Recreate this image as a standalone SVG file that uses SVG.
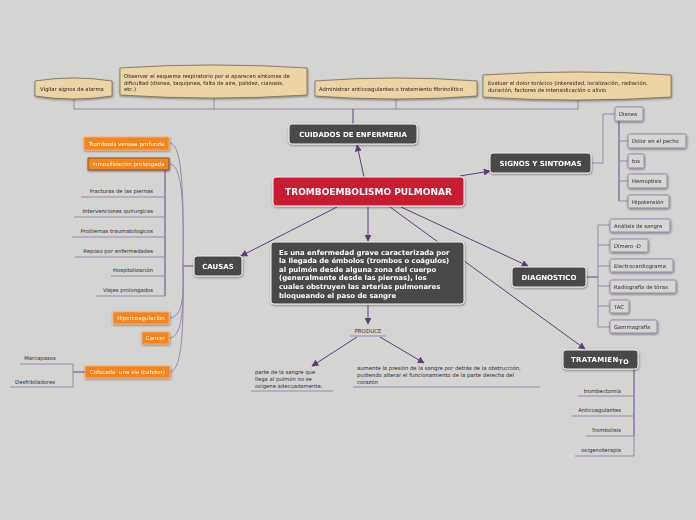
<svg xmlns="http://www.w3.org/2000/svg" width="696" height="520" viewBox="0 0 696 520">
<defs>
<marker id="ah" viewBox="0 0 10 10" refX="9" refY="5" markerWidth="7" markerHeight="7" orient="auto" markerUnits="userSpaceOnUse">
<path d="M0,0 L10,5 L0,10 Z" fill="#5e3a80"/>
</marker>
<filter id="sh" x="-10%" y="-20%" width="120%" height="150%">
<feDropShadow dx="0.5" dy="1" stdDeviation="0.8" flood-color="#000" flood-opacity="0.45"/>
</filter>
</defs>
<style>
text{font-family:"DejaVu Sans","Verdana",sans-serif}
.dark{fill:#4a4a4a;stroke:#f2f2f2;stroke-width:1}
.dt{fill:#fff;font-weight:bold;font-size:7px;text-anchor:middle}
.scroll{fill:#ecd4a5;stroke:#6e5f48;stroke-width:0.7}
.st{fill:#222;font-size:5.3px}
.gn{fill:#d6d6d4;stroke:#9a84ad;stroke-width:1}
.gt{fill:#2a2a2a;font-size:5.3px}
.or{fill:#f5841f;stroke:#fbb472;stroke-width:0.8}
.ot{fill:#fff;font-size:5.5px;text-anchor:middle}
.ut{fill:#2a2a2a;font-size:5.3px;text-anchor:end}
.main{stroke:#5e3a80;stroke-width:1;fill:none}
.lite{stroke:#9a84ad;stroke-width:1;fill:none}
.mid{stroke:#7a5a9a;stroke-width:1.2;fill:none}
.ul{stroke:#9a84ad;stroke-width:1;fill:none}
</style>
<rect width="696" height="520" fill="#d4d5d3"/>

<g id="connectors">
<path class="lite" d="M74,99 V109 H578 V100 M214,99 V109 M396,99 V109"/>
<path class="main" d="M353,109 V124"/>
<path class="main" d="M364,177 L357,145" marker-end="url(#ah)"/>
<path class="main" d="M460,176 L490,171" marker-end="url(#ah)"/>
<path class="main" d="M401,207 L528,266" marker-end="url(#ah)"/>
<path class="main" d="M390,207 L585,349" marker-end="url(#ah)"/>
<path class="main" d="M337,207 L241,256" marker-end="url(#ah)"/>
<path class="main" d="M368,207 V241" marker-end="url(#ah)"/>
<path class="main" d="M368,305 V324" marker-end="url(#ah)"/>
<path class="main" d="M357,337 L312,366" marker-end="url(#ah)"/>
<path class="main" d="M380,337 L424,363" marker-end="url(#ah)"/>
<path class="lite" d="M591,163 H603 V114 H615"/>
<path class="mid" d="M619,121 V201"/>
<path class="lite" d="M619,141 H628 M619,161 H628 M619,181 H628 M619,201 H628"/>
<path class="mid" d="M586,277 H598"/>
<path class="lite" d="M598,225 V327 M598,225 H610 M598,245 H610 M598,266 H610 M598,286 H610 M598,306 H610 M598,327 H610"/>
<path class="mid" d="M634,369 V436"/>
<path class="lite" d="M634,436 V456"/>
<path class="ul" d="M578,396 H634 M572,416 H634 M586,436 H634 M575,456 H634"/>
<path class="mid" d="M194,266 H183"/>
<path class="lite" d="M183,266 C184,190 182,145 170,143"/>
<path class="lite" d="M183,266 C184,200 182,166 170,164"/>
<path class="lite" d="M183,266 C184,300 182,316 170,318"/>
<path class="lite" d="M183,266 C184,310 182,336 170,338"/>
<path class="lite" d="M183,266 C184,330 182,370 170,372"/>
<path class="mid" d="M165,170 V296"/>
<path class="ul" d="M81,197 H165 M74,217 H165 M72,237 H165 M75,257 H165 M111,276 H165 M96,296 H165"/>
<path class="mid" d="M85,372 H73"/>
<path class="ul" d="M73,364 V387 M20,364 H73 M10,387 H73"/>
<path class="ul" d="M350,336 H386 M251,391 H333 M353,387 H540"/>
</g>

<g id="care1" filter="url(#sh)">
<path class="scroll" d="M35,81 Q73,75 112,81 L112,96 Q73,102 35,96 Z"/>
<text class="st" x="40" y="91">Vigilar signos de alarma</text>
</g>
<g id="care2" filter="url(#sh)">
<path class="scroll" d="M120,68 Q213,62 307,68 L307,95 Q213,101 120,95 Z"/>
<text class="st" x="124" y="77.5">Observar el esquema respiratorio por si aparecen síntomas de</text>
<text class="st" x="124" y="84.5">dificultad (disnea, taquipnea, falta de aire, palidez, cianosis,</text>
<text class="st" x="124" y="91">etc.)</text>
</g>
<g id="care3" filter="url(#sh)">
<path class="scroll" d="M315,81 Q396,75 477,81 L477,96 Q396,102 315,96 Z"/>
<text class="st" x="319" y="91">Administrar anticoagulantes o tratamiento fibrinolítico</text>
</g>
<g id="care4" filter="url(#sh)">
<path class="scroll" d="M483,75 Q577,69 671,75 L671,97 Q577,103 483,97 Z"/>
<text class="st" x="488" y="85">Evaluar el dolor torácico (intensidad, localización, radiación,</text>
<text class="st" x="488" y="91.5">duración, factores de intensidicación o alivio</text>
</g>

<g id="cuidados" filter="url(#sh)">
<rect class="dark" x="289" y="124" width="128" height="20" rx="3"/>
<text class="dt" x="353" y="136.5">CUIDADOS DE ENFERMERIA</text>
</g>

<g id="main" filter="url(#sh)">
<rect x="273" y="177" width="191" height="29" rx="3" fill="#c71f32" stroke="#f2f2f2" stroke-width="1"/>
<text x="368.5" y="194.5" fill="#fff" font-weight="bold" font-size="9px" text-anchor="middle">TROMBOEMBOLISMO PULMONAR</text>
</g>

<g id="signos" filter="url(#sh)">
<rect class="dark" x="490" y="153" width="101" height="20" rx="3"/>
<text class="dt" x="540.5" y="165.5">SIGNOS Y SINTOMAS</text>
</g>
<g id="disnea" filter="url(#sh)"><rect class="gn" x="615" y="107" width="28" height="14" rx="1.5"/><text class="gt" x="619" y="116">Disnea</text></g>
<g id="dolor" filter="url(#sh)"><rect class="gn" x="628" y="134" width="58" height="14" rx="1.5"/><text class="gt" x="632" y="143">Dolor en el pecho</text></g>
<g id="tos" filter="url(#sh)"><rect class="gn" x="628" y="154" width="16" height="14" rx="1.5"/><text class="gt" x="632" y="163">tos</text></g>
<g id="hemoptisis" filter="url(#sh)"><rect class="gn" x="628" y="174" width="39" height="14" rx="1.5"/><text class="gt" x="632" y="183">Hemoptisis</text></g>
<g id="hipotension" filter="url(#sh)"><rect class="gn" x="628" y="195" width="41" height="13" rx="1.5"/><text class="gt" x="632" y="203.5">Hipotensión</text></g>

<g id="diagnostico" filter="url(#sh)">
<rect class="dark" x="512" y="267" width="74" height="20" rx="3"/>
<text class="dt" x="549" y="279.5">DIAGNOSTICO</text>
</g>
<g id="analisis" filter="url(#sh)"><rect class="gn" x="610" y="219" width="60" height="13" rx="1.5"/><text class="gt" x="614" y="227.5">Análisis de sangre</text></g>
<g id="dimero" filter="url(#sh)"><rect class="gn" x="610" y="239" width="38" height="13" rx="1.5"/><text class="gt" x="614" y="247.5">Dímero -D</text></g>
<g id="electro" filter="url(#sh)"><rect class="gn" x="610" y="259" width="63" height="13" rx="1.5"/><text class="gt" x="614" y="267.5">Electrocardiograma</text></g>
<g id="radiografia" filter="url(#sh)"><rect class="gn" x="610" y="280" width="66" height="13" rx="1.5"/><text class="gt" x="614" y="288.5">Radiografía de tórax</text></g>
<g id="tac" filter="url(#sh)"><rect class="gn" x="610" y="300" width="19" height="13" rx="1.5"/><text class="gt" x="614" y="308.5">TAC</text></g>
<g id="gammagrafia" filter="url(#sh)"><rect class="gn" x="610" y="320" width="47" height="13" rx="1.5"/><text class="gt" x="614" y="328.5">Gammagrafía</text></g>

<g id="tratamiento" filter="url(#sh)">
<rect class="dark" x="563" y="350" width="75" height="19" rx="3"/>
<text x="571" y="362" fill="#fff" font-weight="bold" font-size="7px" letter-spacing="0.3">TRATAMIEN<tspan dy="1.5" font-size="6.3px">TO</tspan></text>
</g>
<g id="trombectomia"><text class="ut" x="621" y="393">trombectomía</text></g>
<g id="anticoagulantes"><text class="ut" x="621" y="412">Anticoagulantes</text></g>
<g id="trombolisis"><text class="ut" x="621" y="432">Trombolisis</text></g>
<g id="oxigenoterapia"><text class="ut" x="621" y="452">oxigenoterapia</text></g>

<g id="causas" filter="url(#sh)">
<rect class="dark" x="194" y="256" width="48" height="20" rx="3"/>
<text class="dt" x="218" y="268.5">CAUSAS</text>
</g>
<g id="trombosis" filter="url(#sh)"><rect class="or" x="84" y="137" width="85" height="13"/><text class="ot" x="126.5" y="145.5">Trombosis venosa profunda</text></g>
<g id="inmovilizacion" filter="url(#sh)"><rect x="88" y="158" width="81" height="12" fill="#f5841f" stroke="#6a4a2a" stroke-width="0.8"/><text class="ot" x="128.5" y="166">Inmovilización prolongada</text></g>
<g id="fracturas"><text class="ut" x="153" y="193">Fracturas de las piernas</text></g>
<g id="intervenciones"><text class="ut" x="153" y="213">Intervenciones quirurgicas</text></g>
<g id="problemas"><text class="ut" x="153" y="233">Problemas traumatologicos</text></g>
<g id="reposo"><text class="ut" x="153" y="253">Reposo por enfermedades</text></g>
<g id="hospitalizacion"><text class="ut" x="153" y="272">Hospitalización</text></g>
<g id="viajes"><text class="ut" x="153" y="292">Viajes prolongados</text></g>
<g id="hipercoagulacion" filter="url(#sh)"><rect class="or" x="113" y="312" width="56" height="12"/><text class="ot" x="141" y="320">Hipercoagulación</text></g>
<g id="cancer" filter="url(#sh)"><rect class="or" x="142" y="332" width="27" height="12"/><text class="ot" x="155.5" y="340">Cancer</text></g>
<g id="cateter" filter="url(#sh)"><rect class="or" x="85" y="366" width="85" height="12"/><text class="ot" x="127.5" y="374" xml:space="preserve">Colocada  una vía (cateter)</text></g>
<g id="marcapasos"><text class="gt" x="40" y="360" text-anchor="middle">Marcapasos</text></g>
<g id="desfribiladores"><text class="gt" x="35" y="384" text-anchor="middle">Desfribiladores</text></g>

<g id="definicion" filter="url(#sh)">
<rect class="dark" x="271" y="242" width="193" height="62" rx="3"/>
<g fill="#fff" font-weight="bold" font-size="6.9px">
<text x="279" y="254.5">Es una enfermedad grave caracterizada por</text>
<text x="279" y="263.1">la llegada de émbolos (trombos o coágulos)</text>
<text x="279" y="271.7">al pulmón desde alguna zona del cuerpo</text>
<text x="279" y="280.3">(generalmente desde las piernas), los</text>
<text x="279" y="288.9">cuales obstruyen las arterias pulmonares</text>
<text x="279" y="297.5">bloqueando el paso de sangre</text>
</g>
</g>

<g id="produce"><text x="368" y="333" fill="#333" font-size="5.5px" text-anchor="middle">PRODUCE</text></g>
<g id="efecto1">
<text class="gt" x="255" y="374">parte de la sangre que</text>
<text class="gt" x="255" y="381">llega al pulmón no se</text>
<text class="gt" x="255" y="388">oxigene adecuadamente.</text>
</g>
<g id="efecto2">
<text class="gt" x="357" y="370">aumente la presión de la sangre por detrás de la obstrucción,</text>
<text class="gt" x="357" y="377">pudiendo alterar el funcionamiento de la parte derecha del</text>
<text class="gt" x="357" y="384">corazón</text>
</g>
</svg>
